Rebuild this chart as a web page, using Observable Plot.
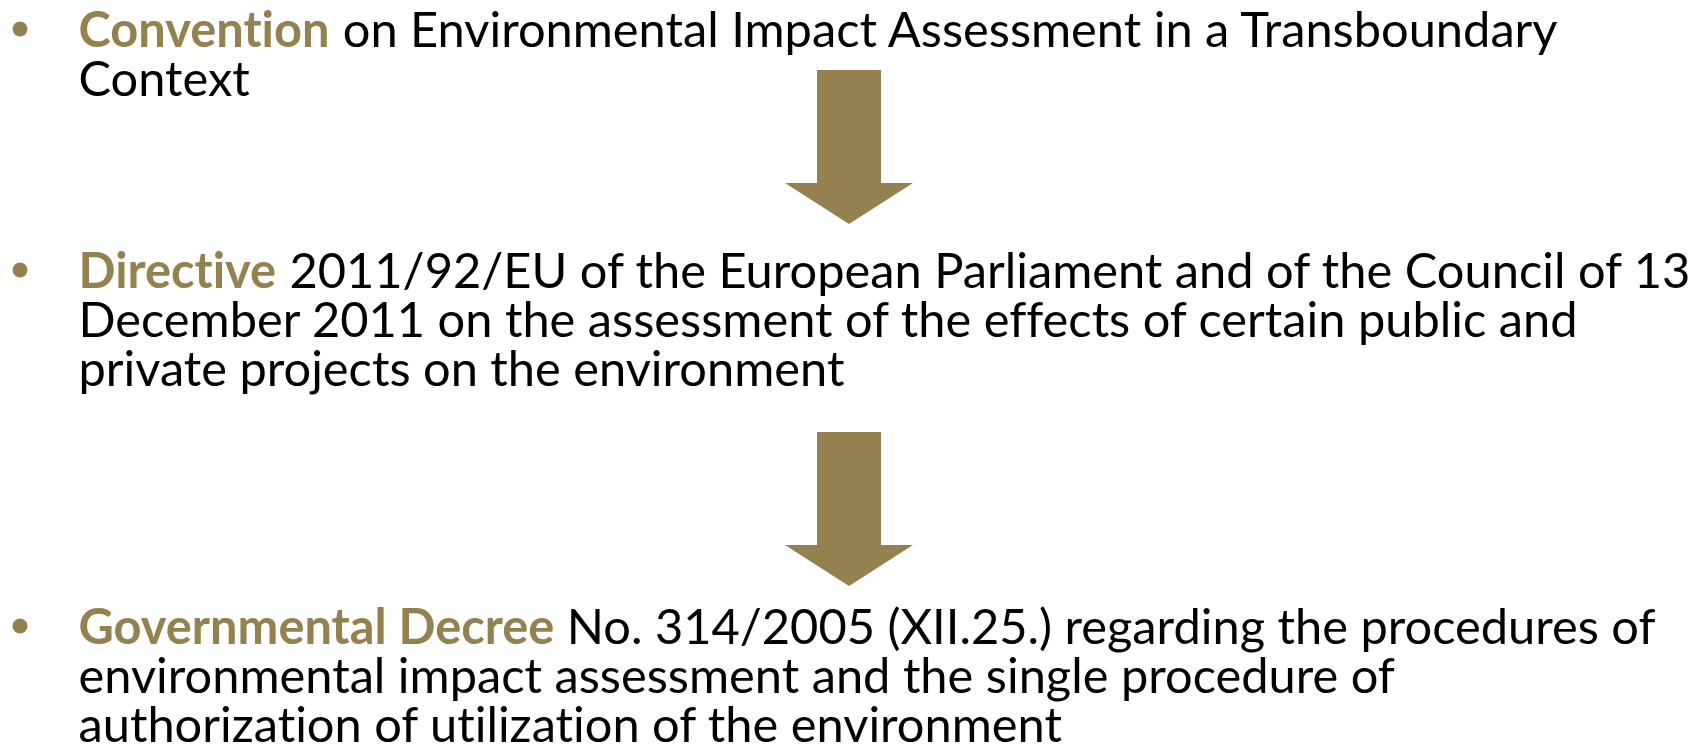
<!DOCTYPE html>
<html>
<head>
<meta charset="utf-8">
<script src="https://cdn.jsdelivr.net/npm/d3@7"></script>
<script src="https://cdn.jsdelivr.net/npm/@observablehq/plot@0.6"></script>
<style>
  html, body { margin: 0; padding: 0; background: #fff; }
  svg { display: block; }
  svg text { font-variant-ligatures: none; font-feature-settings: "liga" 0, "clig" 0; }
</style>
</head>
<body>
<div id="chart"></div>
<script>
// ---- data ----
const keywords = ["Convention", "Directive", "Governmental Decree"];
const firstLines = [
  "on Environmental Impact Assessment in a Transboundary",
  "2011/92/EU of the European Parliament and of the Council of 13",
  "No. 314/2005 (XII.25.) regarding the procedures of"
];
const continuationLines = [
  ["Context"],
  ["December 2011 on the assessment of the effects of certain public and",
   "private projects on the environment"],
  ["environmental impact assessment and the single procedure of",
   "authorization of utilization of the environment"]
];
const arrowLinks = [[0, 1], [1, 2]];

// ---- layout ----
const W = 1707, H = 753;
const gold = "#958150";
const fontFamily = "Lato, 'Open Sans', sans-serif";
const textX = 78;
const bulletX = 19.5;
const blockBaselines = [46, 287, 643];
const lineStep = 49;
const arrowTops = [70, 432];
const arrowCX = 849, shaftHalf = 32, headHalf = 64, shaftLen = 113, headLen = 41;

// fit font size so lines span like the reference
const ctx = document.createElement("canvas").getContext("2d");
ctx.fontKerning = "normal";
function measure(text, size, bold) {
  ctx.font = `${bold ? "bold " : ""}${size}px ${fontFamily}`;
  return ctx.measureText(text).width;
}
const firstW = keywords.map((k, i) => measure(k, 100, true) + measure(" " + firstLines[i], 100, false));
const restW = continuationLines.flat().map(t => measure(t, 100, false));
const maxW = Math.max(...firstW, ...restW);
const fs = Math.min(100 * 1511 / firstW[0], 100 * 1612 / maxW);

// build tables
const heads = keywords.map((k, i) => ({
  key: k,
  rest: firstLines[i],
  y: blockBaselines[i],
  restX: textX + measure(k, fs, true) + measure(" ", fs, false)
}));
const bodyLines = continuationLines.flatMap((lines, i) =>
  lines.map((t, j) => ({text: t, y: blockBaselines[i] + (j + 1) * lineStep})));
const bullets = heads.map(h => ({x: bulletX, y: h.y - 17.5}));
const shafts = arrowLinks.map((l, i) => ({
  x1: arrowCX - shaftHalf, x2: arrowCX + shaftHalf,
  y1: arrowTops[i], y2: arrowTops[i] + shaftLen
}));
const headsTri = arrowLinks.flatMap((l, i) => {
  const t = arrowTops[i] + shaftLen;
  return [
    {id: i, x: arrowCX - headHalf, y1: t, y2: t},
    {id: i, x: arrowCX, y1: t, y2: t + headLen},
    {id: i, x: arrowCX + headHalf, y1: t, y2: t}
  ];
});

const chart = Plot.plot({
  width: W,
  height: H,
  margin: 0,
  x: {type: "identity", axis: null},
  y: {type: "identity", axis: null},
  style: {background: "#fff", fontFamily},
  marks: [
    Plot.rect(shafts, {x1: "x1", x2: "x2", y1: "y1", y2: "y2", fill: gold}),
    Plot.areaY(headsTri, {x: "x", y1: "y1", y2: "y2", z: "id", fill: gold, curve: "linear"}),
    Plot.dot(bullets, {x: "x", y: "y", r: 7.5, fill: gold, stroke: null}),
    Plot.text(heads, {x: () => textX, y: "y", text: "key", fill: gold, fontWeight: "bold",
      fontSize: fs, textAnchor: "start", lineAnchor: "bottom", fontFamily}),
    Plot.text(heads, {x: "restX", y: "y", text: "rest", fill: "#000",
      fontSize: fs, textAnchor: "start", lineAnchor: "bottom", fontFamily}),
    Plot.text(bodyLines, {x: () => textX, y: "y", text: "text", fill: "#000",
      fontSize: fs, textAnchor: "start", lineAnchor: "bottom", fontFamily})
  ]
});
document.getElementById("chart").appendChild(chart);
</script>
</body>
</html>
